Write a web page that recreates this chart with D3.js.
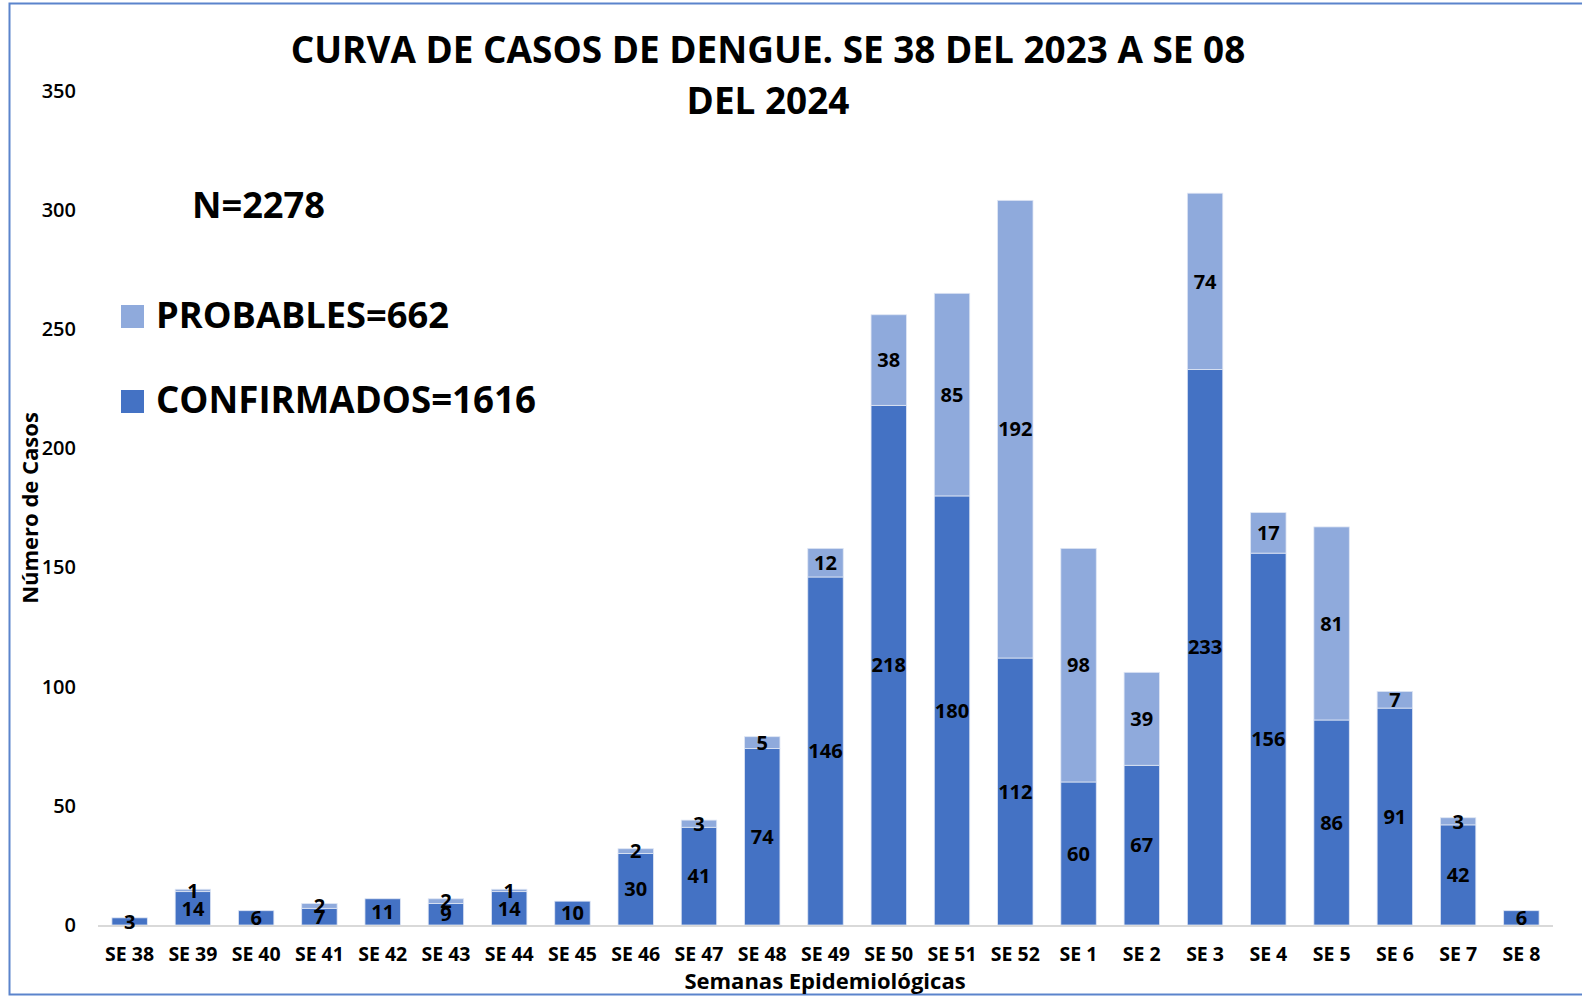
<!DOCTYPE html>
<html>
<head>
<meta charset="utf-8">
<script src="https://cdn.jsdelivr.net/npm/d3@7"></script>
<style>
  body { margin: 0; background: #fff; }
  text { font-family: "Open Sans", "Noto Sans", sans-serif; fill: #000; }
</style>
</head>
<body>
<section id="chart"></section>
<script>
// semanas epidemiologicas
var weeks = ["SE 38","SE 39","SE 40","SE 41","SE 42","SE 43","SE 44","SE 45","SE 46","SE 47","SE 48",
             "SE 49","SE 50","SE 51","SE 52","SE 1","SE 2","SE 3","SE 4","SE 5","SE 6","SE 7","SE 8"];
var confirmados = [3,14,6,7,11,9,14,10,30,41,74,146,218,180,112,60,67,233,156,86,91,42,6];
var probables   = [0,1,0,2,0,2,1,0,2,3,5,12,38,85,192,98,39,74,17,81,7,3,0];
var yTicks = [0,50,100,150,200,250,300,350];

var W = 1582, H = 998;
var svg = d3.select("#chart").append("svg")
            .attr("width", W).attr("height", H);

// frame
svg.append("rect")
   .attr("x", 9.5).attr("y", 3.5)
   .attr("width", 1580).attr("height", 991)
   .attr("fill", "none").attr("stroke", "#5b84cc").attr("stroke-width", 2);

var x = d3.scaleBand().domain(weeks).range([98, 1553]).paddingInner(0.44).paddingOuter(0.22);
var y = d3.scaleLinear().domain([0, 350]).range([925, 90.7]);

// shrink/grow a text to a target width
function fit(sel, target) {
  var w = sel.node().getComputedTextLength();
  var fs = parseFloat(sel.attr("font-size"));
  sel.attr("font-size", fs * target / w);
}

// y axis (labels only)
var yAxis = svg.append("g")
   .attr("transform", "translate(76,0)")
   .call(d3.axisLeft(y).tickValues(yTicks).tickSize(0).tickPadding(0));
yAxis.select(".domain").remove();
yAxis.selectAll("text")
   .attr("font-size", 20).attr("font-weight", 600)
   .style("font-family", "'Open Sans', sans-serif").attr("fill", "#000");

// bars
var rows = weeks.map(function(w, i) { return { w: w, c: confirmados[i], p: probables[i] }; });

svg.selectAll("rect.conf").data(rows).enter().append("rect")
   .attr("class", "conf")
   .attr("x", d => x(d.w)).attr("width", x.bandwidth())
   .attr("y", d => y(d.c)).attr("height", d => y(0) - y(d.c))
   .attr("fill", "#4472c4").attr("stroke", "#dfe6f4").attr("stroke-width", 0.8);

svg.selectAll("rect.prob").data(rows.filter(d => d.p > 0)).enter().append("rect")
   .attr("class", "prob")
   .attr("x", d => x(d.w)).attr("width", x.bandwidth())
   .attr("y", d => y(d.c + d.p)).attr("height", d => y(d.c) - y(d.c + d.p))
   .attr("fill", "#8faadc").attr("stroke", "#dfe6f4").attr("stroke-width", 0.8);

// baseline
svg.append("line")
   .attr("x1", 98).attr("x2", 1553).attr("y1", y(0) + 1).attr("y2", y(0) + 1)
   .attr("stroke", "#d9d9d9").attr("stroke-width", 2);

// data labels
svg.selectAll("text.lc").data(rows).enter().append("text")
   .attr("x", d => x(d.w) + x.bandwidth() / 2)
   .attr("y", d => (y(0) + y(d.c)) / 2)
   .attr("text-anchor", "middle").attr("dy", "0.36em")
   .attr("font-size", 20).attr("font-weight", 700)
   .text(d => d.c);

svg.selectAll("text.lp").data(rows.filter(d => d.p > 0)).enter().append("text")
   .attr("x", d => x(d.w) + x.bandwidth() / 2)
   .attr("y", d => (y(d.c) + y(d.c + d.p)) / 2)
   .attr("text-anchor", "middle").attr("dy", "0.36em")
   .attr("font-size", 20).attr("font-weight", 700)
   .text(d => d.p);

// x axis labels
var xAxis = svg.append("g")
   .attr("transform", "translate(0," + (y(0)) + ")")
   .call(d3.axisBottom(x).tickSize(0).tickPadding(22));
xAxis.select(".domain").remove();
xAxis.selectAll("text")
   .attr("font-size", 19.5).attr("font-weight", 700)
   .style("font-family", "'Open Sans', sans-serif").attr("fill", "#000");

// axis titles
svg.append("text")
   .attr("x", 825).attr("y", 989).attr("text-anchor", "middle")
   .attr("font-size", 22).attr("font-weight", 700)
   .text("Semanas Epidemiológicas");

svg.append("text")
   .attr("transform", "translate(38,508) rotate(-90)")
   .attr("text-anchor", "middle")
   .attr("font-size", 22).attr("font-weight", 700)
   .text("Número de Casos");

// title
var t1 = svg.append("text")
   .attr("x", 768).attr("y", 63).attr("text-anchor", "middle")
   .attr("font-size", 34).attr("font-weight", 700)
   .text("CURVA DE CASOS DE DENGUE. SE 38 DEL 2023 A SE 08");
fit(t1, 955);
var t2 = svg.append("text")
   .attr("x", 768).attr("y", 114).attr("text-anchor", "middle")
   .attr("font-size", t1.attr("font-size")).attr("font-weight", 700)
   .text("DEL 2024");

// annotations
var n = svg.append("text")
   .attr("x", 192).attr("y", 218)
   .attr("font-size", 34).attr("font-weight", 700)
   .text("N=2278");
fit(n, 133);

var legend = [
  { label: "PROBABLES=662", color: "#8faadc", y: 305, w: 293 },
  { label: "CONFIRMADOS=1616", color: "#4472c4", y: 390, w: 380 }
];
legend.forEach(function(l) {
  svg.append("rect")
     .attr("x", 121).attr("y", l.y).attr("width", 23).attr("height", 23)
     .attr("fill", l.color);
  var t = svg.append("text")
     .attr("x", 156).attr("y", l.y + 23)
     .attr("font-size", 34).attr("font-weight", 700)
     .text(l.label);
  fit(t, l.w);
});
</script>
</body>
</html>
